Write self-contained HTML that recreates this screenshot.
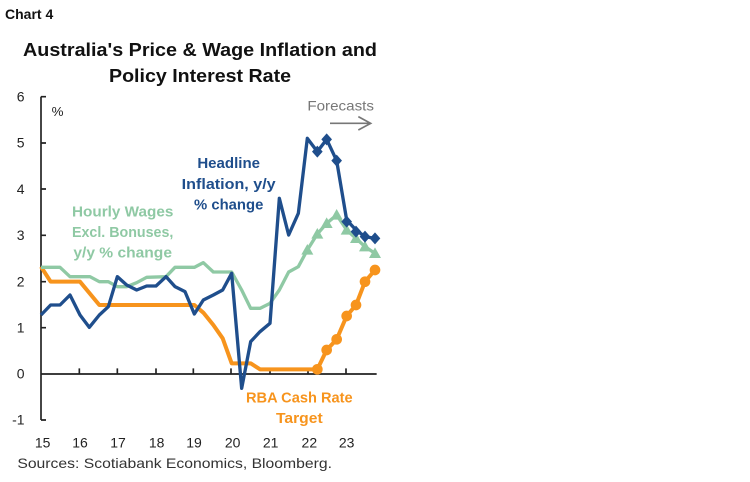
<!DOCTYPE html>
<html><head><meta charset="utf-8"><style>
html,body{margin:0;padding:0;background:#fff;width:750px;height:482px;overflow:hidden}
svg{display:block;font-family:"Liberation Sans",sans-serif}
</style></head><body>
<svg width="750" height="482" viewBox="0 0 750 482">
<text x="5" y="19" font-size="14" font-weight="bold" fill="#111">Chart 4</text>
<text x="200" y="56" font-size="18.5" font-weight="bold" fill="#111" text-anchor="middle" textLength="354" lengthAdjust="spacingAndGlyphs">Australia's Price &amp; Wage Inflation and</text>
<text x="200" y="82" font-size="18.5" font-weight="bold" fill="#111" text-anchor="middle" textLength="182" lengthAdjust="spacingAndGlyphs">Policy Interest Rate</text>
<g transform="translate(0,90) scale(0.3333333)">
  <g font-size="42" fill="#222" text-anchor="middle">
    <text x="62" y="35">6</text><text x="62" y="173">5</text><text x="62" y="312">4</text>
    <text x="62" y="450">3</text><text x="62" y="589">2</text><text x="62" y="727">1</text>
    <text x="62" y="866">0</text><text x="55" y="1004">-1</text>
    <text x="128" y="1072">15</text><text x="240" y="1072">16</text><text x="354" y="1072">17</text>
    <text x="470" y="1072">18</text><text x="582" y="1072">19</text><text x="698" y="1072">20</text>
    <text x="812" y="1072">21</text><text x="928" y="1072">22</text><text x="1040" y="1072">23</text>
  </g>
  <text x="155" y="78" font-size="40" fill="#222">%</text>
  <path d="M123,20 V990 M123,20 H138 M123,159 H138 M123,297 H138 M123,436 H138 M123,575 H138 M123,713 H138 M123,990 H138" stroke="#222" stroke-width="5" fill="none"/>
  <path d="M123,852 H1130 M238,852 V835 M352,852 V835 M468,852 V835 M580,852 V835 M693,852 V835 M810,852 V835 M924,852 V835 M1038,852 V835" stroke="#222" stroke-width="5" fill="none"/>
  <text x="922" y="62" font-size="42" fill="#777" textLength="200" lengthAdjust="spacingAndGlyphs">Forecasts</text>
  <path d="M990,100 H1112 M1075,80 L1112,100 L1075,120" stroke="#777" stroke-width="5" fill="none"/>
  <polyline fill="none" stroke="#f7941d" stroke-width="12" stroke-linejoin="round" points="123,530 152,575 240,575 298,645 583,645 610,668 640,705 668,745 695,820 752,820 780,838 952,838 980,780 1010,748 1040,678 1068,645 1095,575 1125,540"/>
  <g fill="#f7941d"><circle cx="952" cy="838" r="16"/><circle cx="980" cy="780" r="16"/><circle cx="1010" cy="748" r="16"/><circle cx="1040" cy="678" r="16"/><circle cx="1068" cy="645" r="16"/><circle cx="1095" cy="575" r="16"/><circle cx="1125" cy="540" r="16"/></g>
  <polyline fill="none" stroke="#8fc9a4" stroke-width="10" stroke-linejoin="round" points="123,532 180,532 210,560 270,560 298,575 325,575 352,590 380,590 410,578 440,562 498,560 525,532 583,532 610,518 640,546 695,546 725,600 752,655 780,655 810,640 838,600 866,546 895,530 922,480 952,432 980,400 1010,375 1040,420 1068,445 1095,470 1125,490"/>
  <g fill="#8fc9a4">
    <polygon points="922,462 940,494 904,494"/><polygon points="952,414 970,446 934,446"/><polygon points="980,382 998,414 962,414"/><polygon points="1010,357 1028,389 992,389"/><polygon points="1040,402 1058,434 1022,434"/><polygon points="1068,427 1086,459 1050,459"/><polygon points="1095,452 1113,484 1077,484"/><polygon points="1125,472 1143,504 1107,504"/>
  </g>
  <polyline fill="none" stroke="#1f4e8c" stroke-width="10" stroke-linejoin="round" points="123,675 152,645 180,645 210,615 240,675 268,712 298,675 325,650 352,560 380,585 410,600 440,588 468,588 498,560 525,590 555,605 583,672 610,630 640,615 668,600 695,550 725,895 752,755 780,725 810,700 838,325 866,435 895,370 922,145 952,185 980,148 1010,212 1040,390 1068,420 1095,440 1125,445"/>
  <g fill="#1f4e8c">
    <polygon points="952,167 968,185 952,203 936,185"/><polygon points="980,130 996,148 980,166 964,148"/><polygon points="1010,194 1026,212 1010,230 994,212"/><polygon points="1040,377 1056,395 1040,413 1024,395"/><polygon points="1068,407 1084,425 1068,443 1052,425"/><polygon points="1095,422 1111,440 1095,458 1079,440"/><polygon points="1125,427 1141,445 1125,463 1109,445"/>
  </g>
  <g font-size="44" font-weight="bold" text-anchor="middle">
    <text x="686" y="234" fill="#1f4e8c" textLength="188" lengthAdjust="spacingAndGlyphs">Headline</text>
    <text x="686" y="297" fill="#1f4e8c" textLength="282" lengthAdjust="spacingAndGlyphs">Inflation, y/y</text>
    <text x="686" y="359" fill="#1f4e8c" textLength="208" lengthAdjust="spacingAndGlyphs">% change</text>
    <text x="368" y="379" fill="#8fc9a4" textLength="304" lengthAdjust="spacingAndGlyphs">Hourly Wages</text>
    <text x="368" y="441" fill="#8fc9a4" textLength="304" lengthAdjust="spacingAndGlyphs">Excl. Bonuses,</text>
    <text x="368" y="503" fill="#8fc9a4" textLength="296" lengthAdjust="spacingAndGlyphs">y/y % change</text>
    <text x="898" y="937" fill="#f7941d" textLength="320" lengthAdjust="spacingAndGlyphs">RBA Cash Rate</text>
    <text x="898" y="999" fill="#f7941d" textLength="140" lengthAdjust="spacingAndGlyphs">Target</text>
  </g>
  <text x="52" y="1134" font-size="42" fill="#333" textLength="944" lengthAdjust="spacingAndGlyphs">Sources: Scotiabank Economics, Bloomberg.</text>
</g>
</svg>
</body></html>
